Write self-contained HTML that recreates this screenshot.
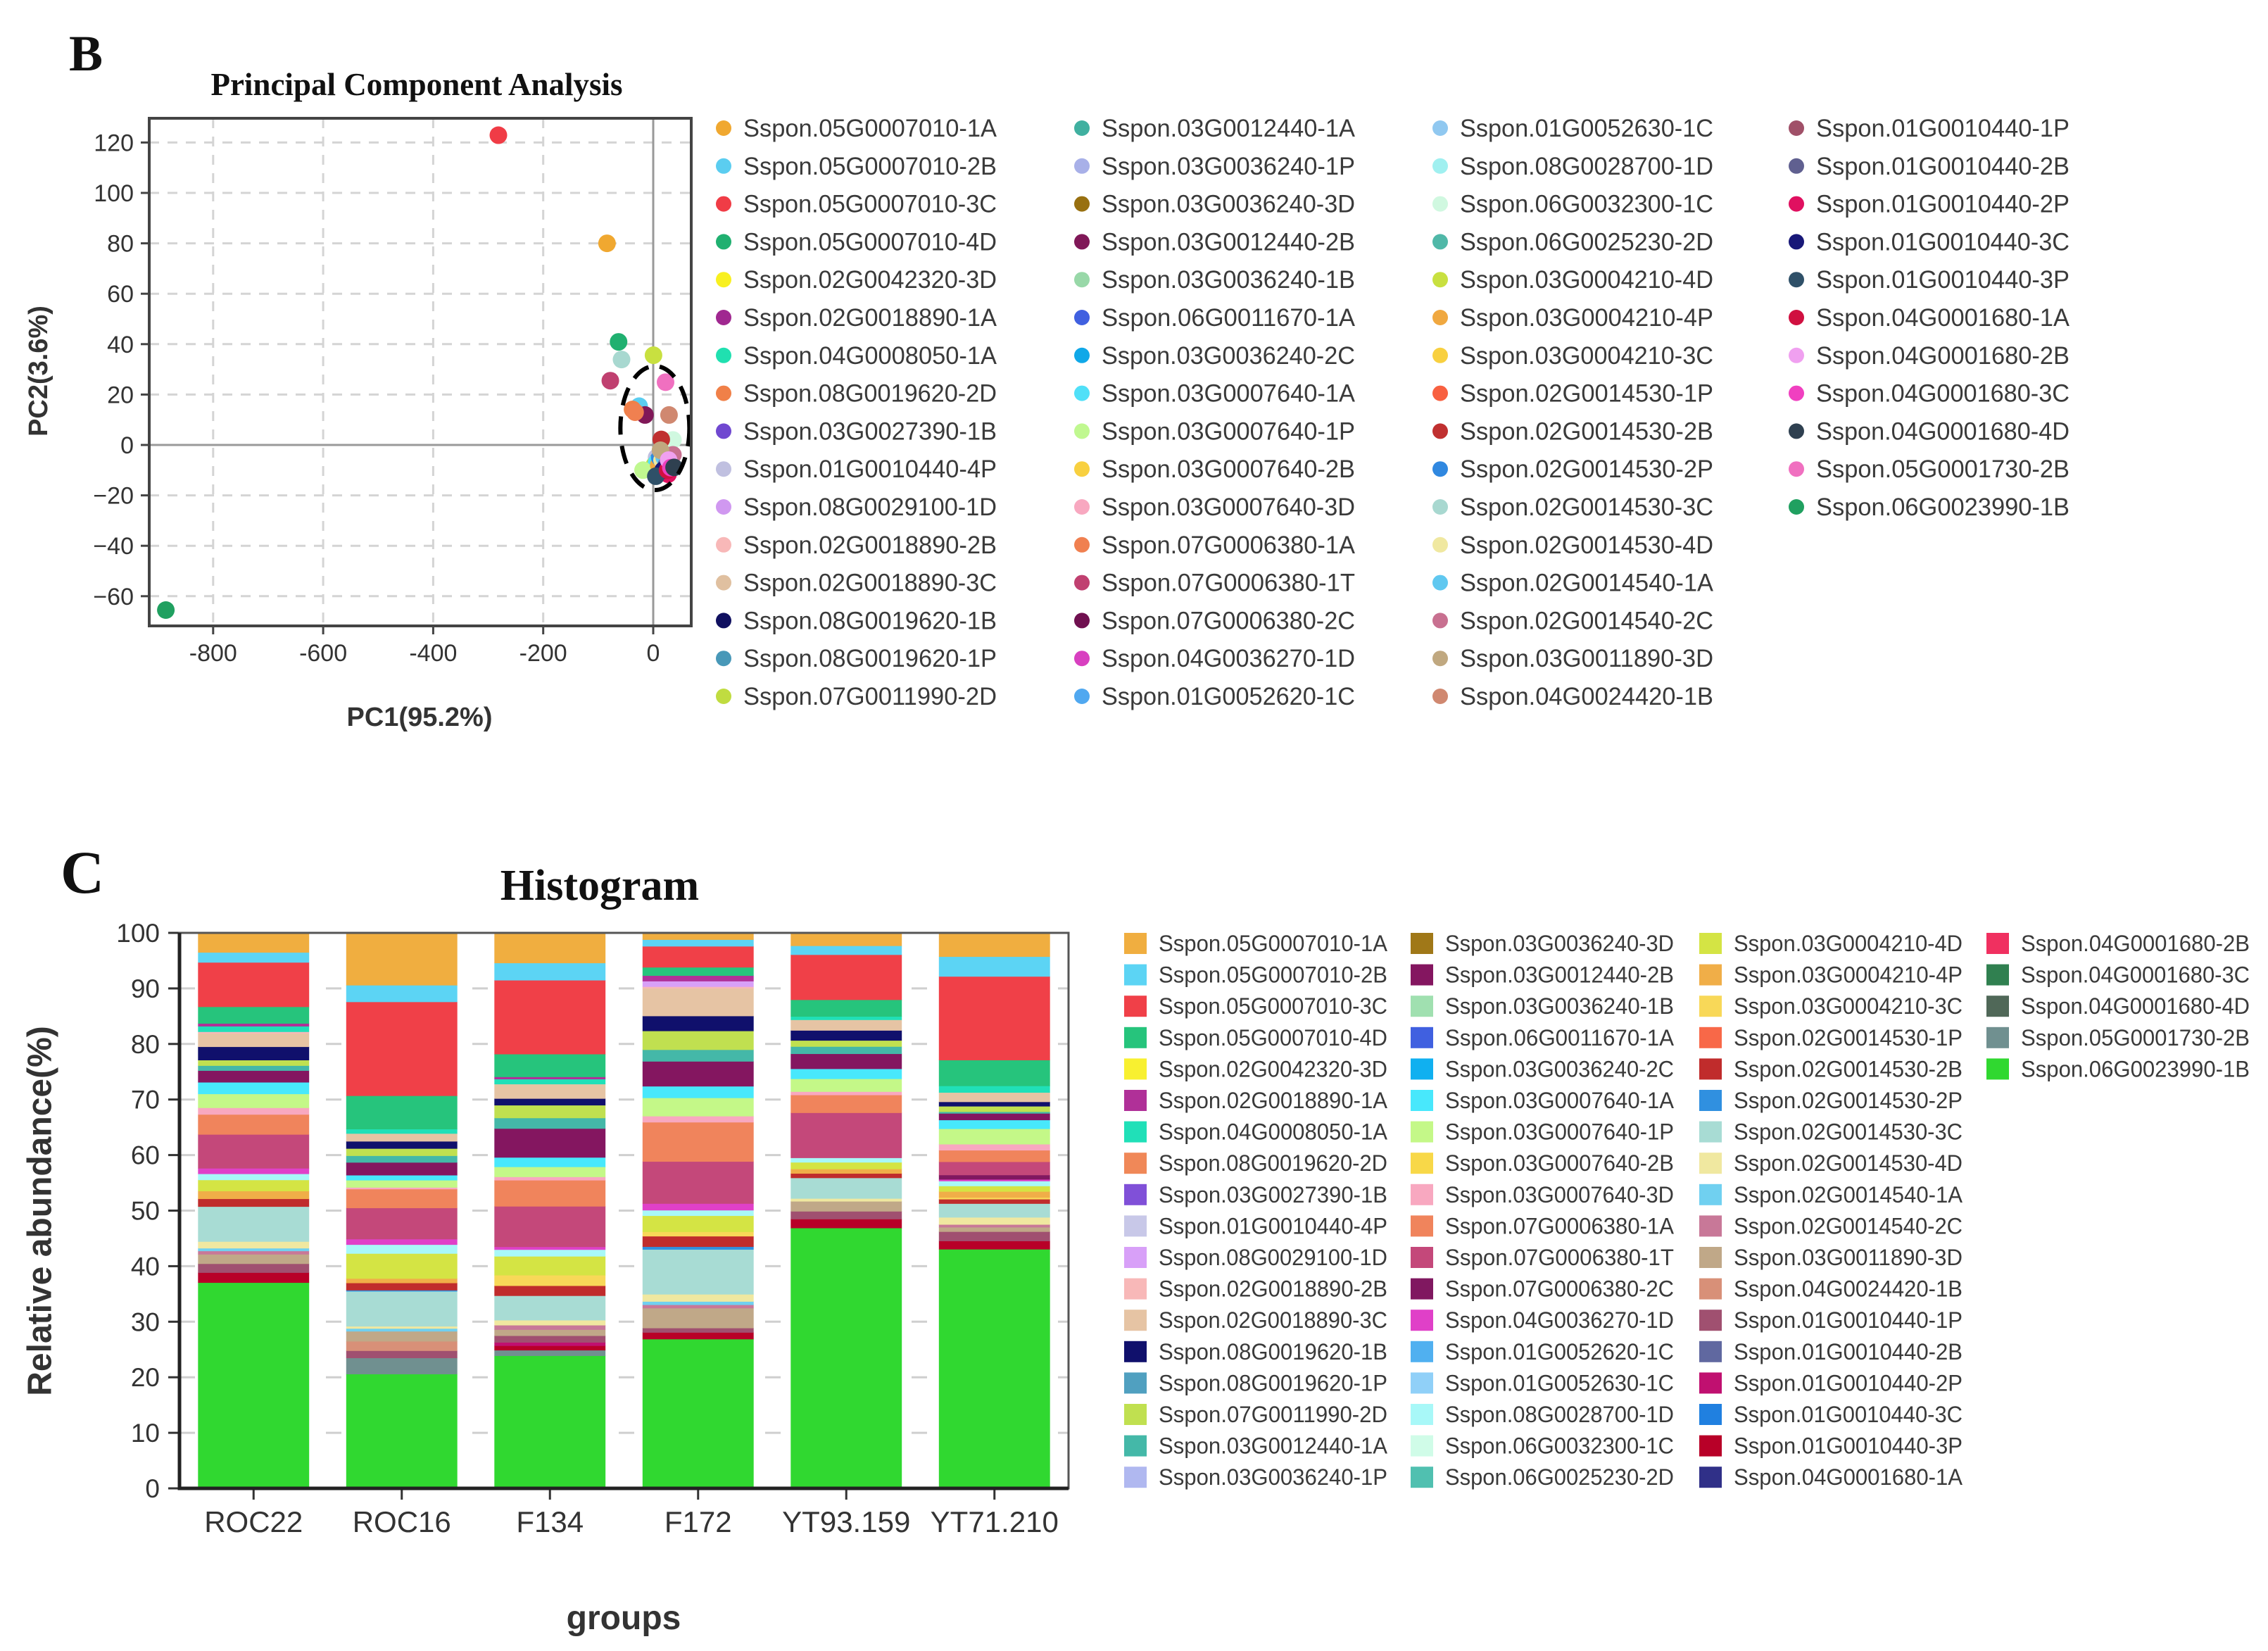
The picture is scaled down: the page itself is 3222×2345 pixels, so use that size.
<!DOCTYPE html>
<html><head><meta charset="utf-8"><style>
html,body{margin:0;padding:0;background:#fff}
svg{display:block}
text{font-family:"Liberation Sans",Arial,sans-serif}
.serif{font-family:"Liberation Serif","Times New Roman",serif;font-weight:bold}
</style></head><body>
<svg id="fig" width="3222" height="2345" viewBox="0 0 3222 2345" xmlns="http://www.w3.org/2000/svg">
<rect width="3222" height="2345" fill="#fff"/>
<text class="serif" x="98" y="100" font-size="72" fill="#111">B</text>
<text class="serif" x="592" y="135" font-size="45" fill="#111" text-anchor="middle">Principal Component Analysis</text>
<text x="57" y="527" font-size="38" font-weight="bold" fill="#333" text-anchor="middle" transform="rotate(-90 57 527)" dominant-baseline="middle">PC2(3.6%)</text>
<text x="596" y="1031" font-size="38" font-weight="bold" fill="#333" text-anchor="middle">PC1(95.2%)</text>
<g id="pca"></g>
<g id="pcaLegend"></g>
<text class="serif" x="86" y="1268" font-size="86" fill="#111">C</text>
<text class="serif" x="852" y="1278" font-size="62" fill="#111" text-anchor="middle">Histogram</text>
<text x="60" y="1720" font-size="48" font-weight="bold" fill="#333" text-anchor="middle" dominant-baseline="middle" transform="rotate(-90 60 1720)">Relative abundance(%)</text>
<text x="886" y="2314" font-size="48" font-weight="bold" fill="#333" text-anchor="middle">groups</text>
<g id="hist"></g>
<g id="histLegend"></g>
</svg>
<script>
const NS="http://www.w3.org/2000/svg";
const seriesNames=["Sspon.05G0007010-1A","Sspon.05G0007010-2B","Sspon.05G0007010-3C","Sspon.05G0007010-4D","Sspon.02G0042320-3D","Sspon.02G0018890-1A","Sspon.04G0008050-1A","Sspon.08G0019620-2D","Sspon.03G0027390-1B","Sspon.01G0010440-4P","Sspon.08G0029100-1D","Sspon.02G0018890-2B","Sspon.02G0018890-3C","Sspon.08G0019620-1B","Sspon.08G0019620-1P","Sspon.07G0011990-2D","Sspon.03G0012440-1A","Sspon.03G0036240-1P","Sspon.03G0036240-3D","Sspon.03G0012440-2B","Sspon.03G0036240-1B","Sspon.06G0011670-1A","Sspon.03G0036240-2C","Sspon.03G0007640-1A","Sspon.03G0007640-1P","Sspon.03G0007640-2B","Sspon.03G0007640-3D","Sspon.07G0006380-1A","Sspon.07G0006380-1T","Sspon.07G0006380-2C","Sspon.04G0036270-1D","Sspon.01G0052620-1C","Sspon.01G0052630-1C","Sspon.08G0028700-1D","Sspon.06G0032300-1C","Sspon.06G0025230-2D","Sspon.03G0004210-4D","Sspon.03G0004210-4P","Sspon.03G0004210-3C","Sspon.02G0014530-1P","Sspon.02G0014530-2B","Sspon.02G0014530-2P","Sspon.02G0014530-3C","Sspon.02G0014530-4D","Sspon.02G0014540-1A","Sspon.02G0014540-2C","Sspon.03G0011890-3D","Sspon.04G0024420-1B","Sspon.01G0010440-1P","Sspon.01G0010440-2B","Sspon.01G0010440-2P","Sspon.01G0010440-3C","Sspon.01G0010440-3P","Sspon.04G0001680-1A","Sspon.04G0001680-2B","Sspon.04G0001680-3C","Sspon.04G0001680-4D","Sspon.05G0001730-2B","Sspon.06G0023990-1B"];
const pcaColors=["#f0a830","#5bcdf0","#f03c46","#20b070","#f8f020","#a02890","#20e0b0","#f08048","#7048d0","#c0c0e0","#d098f0","#f8b8b8","#e0c0a0","#101060","#4898b8","#c0dc40","#40b0a0","#a8b0e8","#987010","#801858","#98d8a8","#4060e0","#10a8e8","#50e0f8","#c0f890","#f8d040","#f8a8c0","#f08050","#c04070","#701050","#d840c0","#50a8f0","#90c8f0","#a0f0f0","#d0f8e0","#50b8a8","#c8e040","#f0a840","#f8d040","#f86040","#c03030","#3088e0","#a8d8d0","#f0e8a0","#60c8f0","#c87090","#c0a880","#d08870","#a05068","#606090","#e01060","#181878","#2f5068","#d01040","#f0a0f0","#f040c0","#2f4050","#f070c0","#20a060"];
const histColors=["#f0ae40","#5cd4f4","#f04048","#26c47c","#f8f030","#b03098","#20e0b8","#f08858","#8050d8","#c8c8e8","#d8a0f8","#f8b8b8","#e6c4a4","#10106c","#50a0c0","#c0e050","#44b8a8","#b0b8f0","#a07818","#841660","#a0e0b0","#4060e0","#10b0f0","#48e8fc","#c4f888","#f8d848","#f8a8c0","#f0845c","#c4487a","#801860","#e040c8","#50b0f0","#90d0f8","#a8f8f8","#d0fce8","#50c0b0","#d4e444","#f0ae48","#f8d858","#f86848","#c02c2c","#3090e0","#a8dcd4","#f0e8a0","#70d0f0","#c87898","#c0a888","#d89078","#a05070","#6068a0","#c01070","#2080e0","#b80028","#303088","#f03060","#308050","#506858","#709090","#30d830"];
// PCA scores (PC1, PC2) per series, legend order
const pc1=[-84,-25.6,-281.5,-63,8,12,18,-37.6,10,6,20,14,16,22,9,2,15,12,10,-15,20,8,12,6,-18.5,16,22,-33,-78,30,25,14,20,18,35.8,24,0.5,10,18,20,14.6,12,-57.6,16,20,35.8,13.2,28.7,30,24,27,18,4.7,26,28,32,37.9,22.4,-886];
const pc2=[80,15.4,122.9,40.9,-6,-8,-4,14.1,-7,-5,-6,-3,-5,-9,-6,-8,-4,-7,-6,11.9,-3,-8,-6,-7,-10,-5,-4,13,25.5,-10,-7,-9,-5,-3,2.0,-6,35.6,-8,-4,-7,2.2,-5,33.9,-6,-5,-3.9,-2.1,11.9,-9,-8,-11.6,-10,-12.4,-10,-6,-9,-8.9,24.9,-65.5];
const pcaXTicks=[-800,-600,-400,-200,0];
const pcaYTicks=[120,100,80,60,40,20,0,-20,-40,-60];
// Histogram
const groups=["ROC22","ROC16","F134","F172","YT93.159","YT71.210"];
const histYTicks=[0,10,20,30,40,50,60,70,80,90,100];
const s00=[3.5,9.4,5.4,1.2,2.3,4.3];
const s01=[1.8,3.0,3.1,1.2,1.6,3.6];
const s02=[8.0,16.9,13.3,3.8,8.1,15.2];
const s03=[3.0,6.0,4.1,1.5,3.0,4.7];
const s04=[0,0,0,0,0,0];
const s05=[0.5,0,0.4,1.0,0,0];
const s06=[1.0,0.8,0.9,0,0.6,1.2];
const s07=[0,0,0,0,0,0];
const s08=[0,0,0,0,0,0];
const s09=[0,0,0,0,0,0];
const s10=[0,0,0,1.0,0,0];
const s11=[0.3,0,0,0.3,0,0];
const s12=[2.4,1.4,2.6,5.0,1.9,1.7];
const s13=[2.4,1.3,1.2,2.7,1.8,0.8];
const s14=[0,0,0,0,0,0];
const s15=[1.0,1.3,2.3,3.4,1.1,1.0];
const s16=[0.9,1.2,1.9,2.1,1.3,0.3];
const s17=[0,0,0,0,0,0];
const s18=[0,0,0,0,0,0];
const s19=[2.1,2.3,5.2,4.5,2.7,1.2];
const s20=[0,0,0,0,0,0];
const s21=[0,0,0,0,0,0];
const s22=[0,0,0,0,0,0];
const s23=[2.1,0.9,1.7,2.1,1.8,1.6];
const s24=[2.5,1.3,1.8,3.3,2.3,2.8];
const s25=[0,0,0,0,0,0];
const s26=[1.2,0.3,0.6,1.1,0.6,1.1];
const s27=[3.6,3.4,4.7,7.1,3.2,2.1];
const s28=[6.1,5.6,7.3,7.6,8.1,2.4];
const s29=[0,0,0,0,0,0.8];
const s30=[1.0,1.0,0.5,1.2,0,0.3];
const s31=[0,0,0,0,0,0];
const s32=[0,0,0,0,0,0];
const s33=[1.1,1.6,1.2,1.0,0.8,0.9];
const s34=[0,0,0,0,0,0];
const s35=[0,0,0,0,0,0];
const s36=[2.0,4.5,3.4,2.9,1.2,1.0];
const s37=[1.4,0.8,0,0,0.8,1.1];
const s38=[0,0,1.9,0.8,0,0.3];
const s39=[0,0,0,0,0,0];
const s40=[1.4,1.3,1.8,1.9,0.8,0.8];
const s41=[0,0.2,0,0.5,0,0];
const s42=[6.3,6.3,4.4,8.1,3.7,2.5];
const s43=[1.2,0.4,0.9,1.3,0.5,1.3];
const s44=[0.5,0.5,0,0.6,0,0];
const s45=[0.6,0,0.8,0.6,0,0.5];
const s46=[1.7,1.8,1.1,3.6,1.8,0.8];
const s47=[0,1.7,0,0,0,0];
const s48=[1.6,1.3,1.2,0.8,1.4,1.7];
const s49=[0,0,0,0,0,0];
const s50=[0,0,0.6,0,0,0];
const s51=[0,0,0,0,0,0];
const s52=[1.8,0,0.8,1.2,1.6,1.5];
const s53=[0,0,0,0,0,0];
const s54=[0,0,0,0,0,0];
const s55=[0,0,0,0,0,0];
const s56=[0,0,0,0,0,0];
const s57=[0,2.9,1.0,0,0,0];
const s58=[37.1,20.6,23.9,27.0,46.8,43.5];
const histSeries=[s00,s01,s02,s03,s04,s05,s06,s07,s08,s09,s10,s11,s12,s13,s14,s15,s16,s17,s18,s19,s20,s21,s22,s23,s24,s25,s26,s27,s28,s29,s30,s31,s32,s33,s34,s35,s36,s37,s38,s39,s40,s41,s42,s43,s44,s45,s46,s47,s48,s49,s50,s51,s52,s53,s54,s55,s56,s57,s58];

function mk(tag,attrs,parent){const e=document.createElementNS(NS,tag);for(const k in attrs)e.setAttribute(k,attrs[k]);parent.appendChild(e);return e;}

// ---- PCA ----
const P={l:212,r:982,t:168,b:889};
function px(v){return 928+v*0.7815;}
function py(v){return 632-v*3.58;}
const pca=document.getElementById('pca');
pcaXTicks.forEach(t=>{
  if(t!==0){const g=mk('line',{x1:px(t),x2:px(t),y1:P.t,y2:P.b,stroke:'#d4d4d4','stroke-width':3,'stroke-dasharray':'14 12'},pca);
  
  }
  const tk=mk('line',{x1:px(t),x2:px(t),y1:P.b,y2:P.b+12,stroke:'#444','stroke-width':3},pca);
  
  
  const lb=mk('text',{x:px(t),y:P.b+50,'font-size':34,fill:'#333','text-anchor':'middle'},pca);
  lb.textContent=String(t);
  
  
});
pcaYTicks.forEach(t=>{
  if(t!==0){const g=mk('line',{x1:P.l,x2:P.r,y1:py(t),y2:py(t),stroke:'#d4d4d4','stroke-width':3,'stroke-dasharray':'14 12'},pca);
  
  }
  const tk=mk('line',{x1:P.l-12,x2:P.l,y1:py(t),y2:py(t),stroke:'#444','stroke-width':3},pca);
  
  
  const lb=mk('text',{x:P.l-22,y:py(t)+12,'font-size':34,fill:'#333','text-anchor':'end'},pca);
  lb.textContent=t<0?'\u2212'+Math.abs(t):String(t);
  
  
});
const z1=mk('line',{x1:px(0),x2:px(0),y1:P.t,y2:P.b,stroke:'#999','stroke-width':3},pca);


const z2=mk('line',{x1:P.l,x2:P.r,y1:py(0),y2:py(0),stroke:'#999','stroke-width':3},pca);


for(let i=0;i<pc1.length;i++){
  const c=mk('circle',{cx:px(pc1[i]),cy:py(pc2[i]),r:12.5,fill:pcaColors[i]},pca);
  
  
}
const ell=mk('ellipse',{cx:px(3),cy:py(6.7),rx:49,ry:88,fill:'none',stroke:'#000','stroke-width':6,'stroke-dasharray':'26 16'},pca);


const fr=mk('rect',{x:P.l,y:P.t,width:P.r-P.l,height:P.b-P.t,fill:'none',stroke:'#444','stroke-width':4},pca);



// PCA legend
const pl=document.getElementById('pcaLegend');
const pcaColX=[1028,1537,2046,2552];
seriesNames.forEach((n,i)=>{
  const col=Math.floor(i/16),row=i%16;
  const cx=pcaColX[col],cy=182+row*53.8;
  const g=mk('g',{},pl);
  
  
  mk('circle',{cx:cx,cy:cy,r:11,fill:pcaColors[i]},g);
  const t=mk('text',{x:cx+28,y:cy+12,'font-size':35,fill:'#3a3a3a',textLength:360,lengthAdjust:'spacingAndGlyphs'},g);
  t.textContent=n;
});

// ---- Histogram ----
const H={l:255,r:1518,t:1325,b:2114};
const band=(H.r-H.l)/groups.length;
function hx(i){return H.l+band*(i+0.5);}
function hy(v){return H.b-v*7.89;}
const hist=document.getElementById('hist');
histYTicks.forEach(t=>{
  if(t!==0&&t!==100){const g=mk('line',{x1:H.l,x2:H.r,y1:hy(t),y2:hy(t),stroke:'#cfcfcf','stroke-width':3,'stroke-dasharray':'22 30'},hist);
  
  }
  const tk=mk('line',{x1:H.l-16,x2:H.l,y1:hy(t),y2:hy(t),stroke:'#333','stroke-width':3},hist);
  
  
  const lb=mk('text',{x:H.l-28,y:hy(t)+13,'font-size':37,fill:'#333','text-anchor':'end'},hist);
  lb.textContent=String(t);
  
  
});
const bw=band*0.75;
groups.forEach((gname,gi)=>{
  let total=0;
  histSeries.forEach(s=>{total+=s[gi];});
  let cum=0;
  for(let s=histSeries.length-1;s>=0;s--){
    const v=histSeries[s][gi]/total*100;
    if(v<=0)continue;
    const r=mk('rect',{x:hx(gi)-bw/2,y:hy(cum+v),width:bw,height:hy(cum)-hy(cum+v)+0.5,fill:histColors[s]},hist);
    
    
    cum+=v;
  }
  const tk=mk('line',{x1:hx(gi),x2:hx(gi),y1:H.b,y2:H.b+16,stroke:'#333','stroke-width':3},hist);
  
  
  const lb=mk('text',{x:hx(gi),y:2176,'font-size':42,fill:'#333','text-anchor':'middle'},hist);
  lb.textContent=gname;
  
  
});
const hf=mk('rect',{x:H.l,y:H.t,width:H.r-H.l,height:H.b-H.t,fill:'none',stroke:'#555','stroke-width':3},hist);


const ax=mk('path',{d:`M${H.l} ${H.t} V${H.b} H${H.r}`,fill:'none',stroke:'#222','stroke-width':5},hist);



// Histogram legend
const hl=document.getElementById('histLegend');
const histColX=[1597,2004,2414,2822];
seriesNames.forEach((n,i)=>{
  const col=Math.floor(i/18),row=i%18;
  const x=histColX[col],cy=1340+row*44.6;
  const g=mk('g',{},hl);
  
  
  mk('rect',{x:x,y:cy-15,width:32,height:30,fill:histColors[i]},g);
  const t=mk('text',{x:x+49,y:cy+11,'font-size':32,fill:'#3a3a3a',textLength:325,lengthAdjust:'spacingAndGlyphs'},g);
  t.textContent=n;
});
</script>
</body></html>
